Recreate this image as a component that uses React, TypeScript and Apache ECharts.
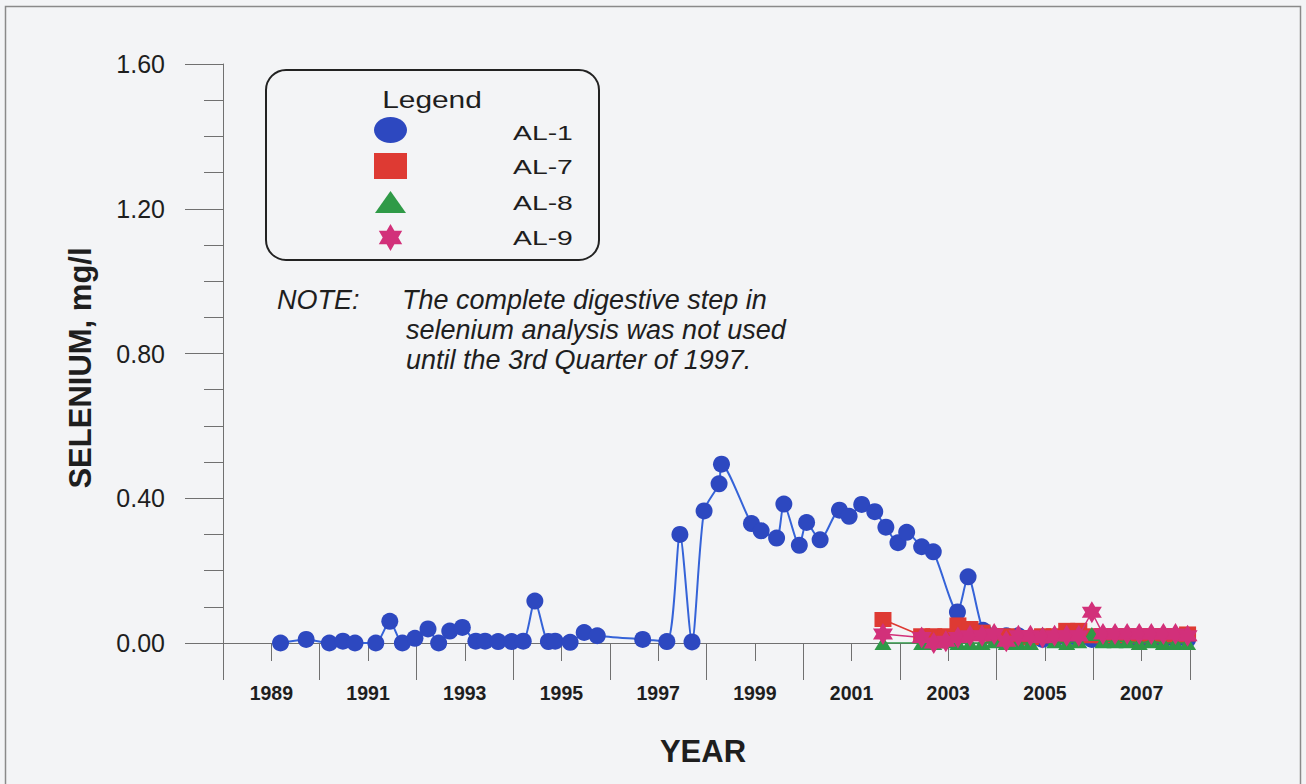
import React, { useEffect, useRef } from "react";
import * as echarts from "echarts";

// ---- data ----
const al1Years = [1989.19, 1989.72, 1990.2, 1990.48, 1990.73, 1991.16, 1991.45, 1991.71, 1991.97, 1992.24, 1992.46, 1992.69, 1992.95, 1993.23, 1993.42, 1993.69, 1993.97, 1994.21, 1994.45, 1994.73, 1994.87, 1995.18, 1995.47, 1995.74, 1996.68, 1997.18, 1997.45, 1997.7, 1997.95, 1998.26, 1998.31, 1998.93, 1999.13, 1999.45, 1999.6, 1999.92, 2000.07, 2000.35, 2000.75, 2000.95, 2001.21, 2001.48, 2001.71, 2001.96, 2002.14, 2002.45, 2002.69, 2003.19, 2003.41, 2003.72, 2003.95, 2004.2, 2004.45, 2004.7, 2004.95, 2005.2, 2005.45, 2005.7, 2005.97, 2006.2, 2006.45, 2006.7, 2006.95, 2007.2, 2007.45, 2007.7, 2007.95];
const al1Values = [0.0, 0.01, 0.0, 0.005, 0.0, 0.0, 0.06, 0.0, 0.013, 0.039, 0.0, 0.033, 0.043, 0.005, 0.005, 0.004, 0.004, 0.005, 0.116, 0.004, 0.005, 0.002, 0.029, 0.02, 0.01, 0.004, 0.3, 0.003, 0.365, 0.44, 0.494, 0.33, 0.31, 0.29, 0.384, 0.27, 0.333, 0.285, 0.367, 0.35, 0.383, 0.363, 0.32, 0.277, 0.306, 0.266, 0.252, 0.086, 0.183, 0.035, 0.02, 0.02, 0.02, 0.01, 0.01, 0.01, 0.015, 0.01, 0.01, 0.01, 0.01, 0.01, 0.01, 0.01, 0.01, 0.01, 0.01];

const recentYears = [2001.65, 2002.45, 2002.7, 2002.95, 2003.2, 2003.45, 2003.7, 2003.95, 2004.2, 2004.45, 2004.7, 2004.95, 2005.2, 2005.45, 2005.7, 2005.97, 2006.2, 2006.45, 2006.7, 2006.95, 2007.2, 2007.45, 2007.7, 2007.95];
const al7Values = [0.065, 0.02, 0.02, 0.02, 0.05, 0.04, 0.03, 0.02, 0.02, 0.015, 0.015, 0.02, 0.02, 0.035, 0.035, 0.02, 0.02, 0.02, 0.02, 0.02, 0.02, 0.02, 0.02, 0.025];
const al8Values = [0.0, 0.0, 0.0, 0.005, 0.0, 0.0, 0.0, 0.005, 0.0, 0.0, 0.0, 0.025, 0.005, 0.0, 0.005, 0.025, 0.005, 0.005, 0.005, 0.0, 0.005, 0.0, 0.0, 0.0];
const al9Values = [0.025, 0.015, 0.0, 0.005, 0.015, 0.02, 0.02, 0.025, 0.005, 0.02, 0.02, 0.015, 0.02, 0.02, 0.02, 0.085, 0.025, 0.025, 0.025, 0.025, 0.025, 0.025, 0.025, 0.02];

const seriesNames = ["AL-1", "AL-7", "AL-8", "AL-9"];
const FONT = "'Liberation Sans', Arial, Helvetica, sans-serif";

const COLORS = {
  blue: "#2d48c0",
  blueLine: "#3563d8",
  red: "#de3a33",
  green: "#2f9a47",
  pink: "#d2307a",
};

function starPoints(cx: number, cy: number, R: number): number[][] {
  const pts: number[][] = [];
  const r = R / Math.sqrt(3);
  for (let k = 0; k < 12; k++) {
    const ang = (-90 + k * 30) * (Math.PI / 180);
    const rr = k % 2 === 0 ? R : r;
    pts.push([cx + rr * Math.cos(ang), cy + rr * Math.sin(ang)]);
  }
  return pts;
}

function starPath(): string {
  const pts = starPoints(0, 0, 10);
  return (
    "path://" +
    pts.map((p, i) => (i === 0 ? "M" : "L") + p[0].toFixed(3) + " " + p[1].toFixed(3)).join(" ") +
    " Z"
  );
}

function pairs(xs: number[], ys: number[]) {
  return xs.map((x, i) => [x, ys[i]]);
}

export default function App() {
  const ref = useRef<HTMLDivElement>(null);

  useEffect(() => {
    if (!ref.current) return;
    const chart = echarts.init(ref.current, undefined, { renderer: "svg" });
    const axisColor = "#707070";
    const noteStyle = { fontSize: 27, fontStyle: "italic", fontFamily: FONT, fill: "#1e1e1e", verticalAlign: "middle" };

    const option: any = {
      animation: false,
      backgroundColor: "#f3f4f6",
      grid: { left: 223, top: 64, width: 967, height: 579, containLabel: false },
      xAxis: [
        {
          type: "value",
          min: 1988,
          max: 2008,
          interval: 2,
          position: "bottom",
          axisLine: { show: true, onZero: false, lineStyle: { color: axisColor, width: 1 } },
          axisTick: { show: true, length: 37, lineStyle: { color: axisColor, width: 1 } },
          minorTick: { show: true, splitNumber: 2, length: 18, lineStyle: { color: axisColor, width: 1 } },
          axisLabel: { show: false },
          splitLine: { show: false },
          minorSplitLine: { show: false },
        },
        {
          type: "value",
          min: 1988,
          max: 2008,
          interval: 1,
          position: "bottom",
          axisLine: { show: false },
          axisTick: { show: false },
          splitLine: { show: false },
          axisLabel: {
            show: true,
            margin: 40,
            fontSize: 19.5,
            fontWeight: "bold",
            fontFamily: FONT,
            color: "#1e1e1e",
            showMinLabel: true,
            showMaxLabel: true,
            formatter: (v: number) => (Math.round(v) % 2 === 1 ? String(Math.round(v)) : ""),
          },
        },
      ],
      yAxis: {
        type: "value",
        min: 0,
        max: 1.6,
        interval: 0.4,
        axisLine: { show: true, lineStyle: { color: axisColor, width: 1 } },
        axisTick: { show: true, length: 38, lineStyle: { color: axisColor, width: 1 } },
        minorTick: { show: true, splitNumber: 4, length: 19, lineStyle: { color: axisColor, width: 1 } },
        splitLine: { show: false },
        axisLabel: {
          margin: 58,
          fontSize: 25,
          fontFamily: FONT,
          color: "#1e1e1e",
          formatter: (v: number) => v.toFixed(2),
        },
      },
      series: [
        {
          name: seriesNames[0],
          type: "line",
          xAxisIndex: 0,
          data: pairs(al1Years, al1Values),
          smooth: 0.25,
          symbol: "circle",
          symbolSize: 17,
          itemStyle: { color: COLORS.blue },
          lineStyle: { color: COLORS.blueLine, width: 2 },
          z: 2,
        },
        {
          name: seriesNames[1],
          type: "line",
          xAxisIndex: 0,
          data: pairs(recentYears, al7Values),
          symbol: "rect",
          symbolSize: [17, 15],
          itemStyle: { color: COLORS.red },
          lineStyle: { color: COLORS.red, width: 1.5 },
          z: 3,
        },
        {
          name: seriesNames[2],
          type: "line",
          xAxisIndex: 0,
          data: pairs(recentYears, al8Values),
          symbol: "triangle",
          symbolSize: [17, 14],
          itemStyle: { color: COLORS.green },
          lineStyle: { color: COLORS.green, width: 1.5 },
          z: 4,
        },
        {
          name: seriesNames[3],
          type: "line",
          xAxisIndex: 0,
          data: pairs(recentYears, al9Values),
          symbol: starPath(),
          symbolSize: [20, 22],
          itemStyle: { color: COLORS.pink },
          lineStyle: { color: COLORS.pink, width: 1.5 },
          z: 5,
        },
      ],
      graphic: [
        {
          type: "rect",
          z: 100,
          silent: true,
          shape: { x: 5.5, y: 6.5, width: 1295, height: 800 },
          style: { fill: "none", stroke: "#8a8a8a", lineWidth: 1.5 },
        },
        // legend box
        {
          type: "rect",
          z: 100,
          shape: { x: 266, y: 70, width: 333, height: 190, r: 20 },
          style: { fill: "none", stroke: "#222", lineWidth: 2 },
        },
        {
          type: "text",
          z: 101,
          x: 432,
          y: 100,
          scaleX: 1.3,
          style: { text: "Legend", fontSize: 23, fontFamily: FONT, fill: "#1e1e1e", align: "center", verticalAlign: "middle" },
        },
        {
          type: "ellipse",
          z: 101,
          shape: { cx: 390.5, cy: 130, rx: 16.5, ry: 13 },
          style: { fill: COLORS.blue },
        },
        {
          type: "rect",
          z: 101,
          shape: { x: 374, y: 153, width: 33, height: 26 },
          style: { fill: COLORS.red },
        },
        {
          type: "polygon",
          z: 101,
          shape: { points: [[375, 213], [406, 213], [390.5, 191]] },
          style: { fill: COLORS.green },
        },
        {
          type: "polygon",
          z: 101,
          shape: { points: starPoints(390.5, 237.5, 13.5) },
          style: { fill: COLORS.pink },
        },
        ...seriesNames.map((n, i) => ({
          type: "text",
          z: 101,
          x: 513,
          y: [132, 166, 202, 237][i],
          scaleX: 1.35,
          style: { text: n, fontSize: 21, fontFamily: FONT, fill: "#1e1e1e", align: "left", verticalAlign: "middle" },
        })),
        // note
        { type: "text", z: 101, x: 277, y: 300, style: { ...noteStyle, text: "NOTE:" } },
        { type: "text", z: 101, x: 402, y: 300, style: { ...noteStyle, text: "The complete digestive step in" } },
        { type: "text", z: 101, x: 406, y: 330, style: { ...noteStyle, text: "selenium analysis was not used" } },
        { type: "text", z: 101, x: 406, y: 360, style: { ...noteStyle, text: "until the 3rd Quarter of 1997." } },
        // axis titles
        {
          type: "text",
          z: 101,
          x: 80,
          y: 368,
          rotation: Math.PI / 2,
          style: { text: "SELENIUM, mg/l", fontSize: 31, fontWeight: "bold", fontFamily: FONT, fill: "#1e1e1e", align: "center", verticalAlign: "middle" },
        },
        {
          type: "text",
          z: 101,
          x: 703,
          y: 751,
          style: { text: "YEAR", fontSize: 31, fontWeight: "bold", fontFamily: FONT, fill: "#1e1e1e", align: "center", verticalAlign: "middle" },
        },
      ],
    };

    chart.setOption(option);
    return () => chart.dispose();
  }, []);

  return (
    <div
      ref={ref}
      style={{ position: "absolute", left: 0, top: 0, width: 1306, height: 784 }}
    />
  );
}
